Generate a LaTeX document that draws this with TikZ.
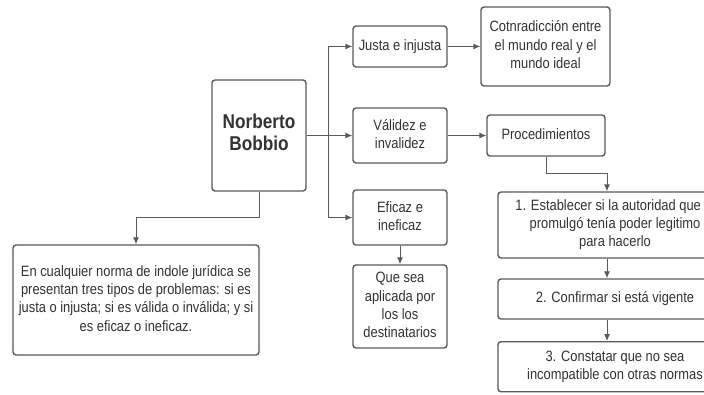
\documentclass[tikz,border=0pt]{standalone}
\usepackage{fontspec}
\usepackage{graphicx}
\setmainfont{Liberation Sans}
\usetikzlibrary{arrows.meta,calc}
\definecolor{edge}{HTML}{5A5A5A}
\definecolor{txt}{HTML}{333333}
\newcommand{\nt}[1]{\scalebox{0.86}[1]{\begin{tabular}{@{}c@{}}#1\end{tabular}}}
\begin{document}
\begin{tikzpicture}[x=1pt,y=1pt,
  box/.style={draw=edge,line width=1.4pt,rounded corners=3pt,fill=white,
    inner sep=0pt,align=center,text=txt,font=\fontsize{15}{18.3}\selectfont},
  conn/.style={draw=edge,line width=1pt,-{Latex[length=7pt,width=6pt]}}]
\clip (0,0) rectangle (704,-394);
\fill[white] (0,0) rectangle (704,-394);
\node[box,minimum width=94pt,minimum height=111pt,font=\fontsize{20}{22}\bfseries\selectfont] (nb) at (259,-135.5) {\nt{Norberto\\Bobbio}};
\node[box,minimum width=94pt,minimum height=41pt] (ju) at (400,-46.5) {\nt{Justa e injusta}};
\node[box,minimum width=94pt,minimum height=55pt] (va) at (400,-135.5) {\nt{Válidez e\\invalidez}};
\node[box,minimum width=94pt,minimum height=55pt] (ef) at (400,-217.5) {\nt{Eficaz e\\ineficaz}};
\node[box,minimum width=94pt,minimum height=83pt] (qs) at (400,-306.5) {\nt{Que sea\\aplicada por\\los los\\destinatarios}};
\node[box,minimum width=129pt,minimum height=79pt] (co) at (545.5,-46.5) {\nt{Cotnradicción entre\\el mundo real y el\\mundo ideal}};
\node[box,minimum width=118pt,minimum height=41pt] (pr) at (546,-135.5) {\nt{Procedimientos}};
\node[box,minimum width=234pt,minimum height=66pt] (b1) at (615,-225) {\nt{1. Establecer si la autoridad que la\\promulgó tenía poder legitimo\\para hacerlo}};
\node[box,minimum width=234pt,minimum height=40pt] (b2) at (615,-299) {\nt{2. Confirmar si está vigente}};
\node[box,minimum width=234pt,minimum height=50pt,anchor=north] (b3) at (615,-341) {\nt{3. Constatar que no sea\\incompatible con otras normas}};
\node[box,minimum width=246pt,minimum height=110pt] (bl) at (136,-300) {\nt{En cualquier norma de indole jurídica se\\presentan tres tipos de problemas: si es\\justa o injusta; si es válida o inválida; y si\\es eficaz o ineficaz.}};
\draw[conn] (nb.east) -- (va.west);
\draw[conn] (nb.east) -- ++(22,0) |- (ju.west);
\draw[conn] (nb.east) -- ++(22,0) |- (ef.west);
\draw[conn] (nb.south) -- ++(0,-26) -| (bl.north);
\draw[conn] (ju.east) -- (co.west);
\draw[conn] (va.east) -- (pr.west);
\draw[conn] (ef.south) -- (qs.north);
\draw[conn] (pr.south) -- ++(0,-17) -| ([xshift=-8pt]b1.north);
\draw[conn] ([xshift=-8pt]b1.south) -- ([xshift=-8pt]b2.north);
\draw[conn] ([xshift=-8pt]b2.south) -- ([xshift=-8pt]b3.north);
\end{tikzpicture}
\end{document}
